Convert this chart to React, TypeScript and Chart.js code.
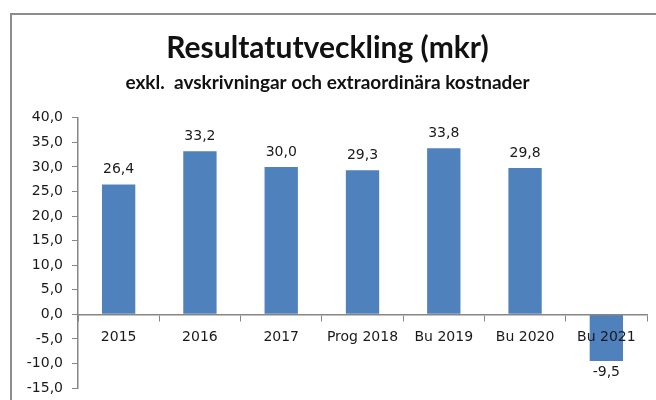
import React, { useEffect, useRef } from "react";
import { Chart, registerables } from "chart.js";

Chart.register(...registerables);

const categories = ["2015", "2016", "2017", "Prog 2018", "Bu 2019", "Bu 2020", "Bu 2021"];
const values = [26.4, 33.2, 30.0, 29.3, 33.8, 29.8, -9.5];
const titleText = "Resultatutveckling (mkr)";
const subtitleText = "exkl.  avskrivningar och extraordinära kostnader";
const yMin = -15;
const yMax = 40;
const yStep = 5;

const fmt = (v: number) => v.toFixed(1).replace(".", ",");

const frameAndBg = {
  id: "frameAndBg",
  beforeDraw(chart: any) {
    const ctx = chart.ctx;
    ctx.save();
    ctx.fillStyle = "#ffffff";
    ctx.fillRect(0, 0, chart.width, chart.height);
    ctx.strokeStyle = "#8c8c8c";
    ctx.lineWidth = 2;
    ctx.strokeRect(11, 14, 800, 600);
    ctx.restore();
  },
};

const valueLabels = {
  id: "valueLabels",
  afterDatasetsDraw(chart: any) {
    const ctx = chart.ctx;
    const meta = chart.getDatasetMeta(0);
    ctx.save();
    ctx.font = "14px 'DejaVu Sans'";
    ctx.fillStyle = "#1a1a1a";
    ctx.textAlign = "center";
    ctx.textBaseline = "middle";
    meta.data.forEach((bar: any, i: number) => {
      const v = chart.data.datasets[0].data[i];
      const y = v >= 0 ? bar.y - 15 : bar.y + 11;
      ctx.fillText(fmt(v), bar.x, y);
    });
    ctx.restore();
  },
};

export default function App() {
  const ref = useRef<HTMLCanvasElement>(null);
  useEffect(() => {
    if (!ref.current) return;
    const chart = new Chart(ref.current, {
      type: "bar",
      data: {
        labels: categories,
        datasets: [
          {
            data: values,
            backgroundColor: "#4f81bd",
            borderWidth: 0,
            categoryPercentage: 1,
            barPercentage: 0.41,
          },
        ],
      },
      plugins: [frameAndBg, valueLabels],
      options: {
        responsive: false,
        animation: false,
        layout: { padding: { left: 8, right: 9, top: 0, bottom: 12 } },
        plugins: {
          legend: { display: false },
          tooltip: { enabled: false },
          title: {
            display: true,
            text: titleText,
            color: "#111111",
            font: { family: "Lato", size: 30, weight: "bold" },
            padding: { top: 30, bottom: 0 },
          },
          subtitle: {
            display: true,
            text: subtitleText,
            color: "#111111",
            font: { family: "Lato", size: 19, weight: "bold" },
            padding: { top: 5, bottom: 24 },
          },
        },
        scales: {
          x: {
            position: { y: 0 } as any,
            afterFit: (s: any) => {
              s.paddingLeft = 0;
              s.paddingRight = 0;
            },
            grid: {
              display: true,
              drawOnChartArea: false,
              offset: true,
              tickLength: 6,
              color: "#868686",
              z: 1,
            },
            border: { display: true, color: "#868686", width: 1.5, z: 1 },
            ticks: {
              color: "#1a1a1a",
              font: { family: "DejaVu Sans", size: 14 },
              padding: 9,
              maxRotation: 0,
              autoSkip: false,
              z: 1,
            },
          },
          y: {
            min: yMin,
            max: yMax,
            afterFit: (s: any) => {
              s.width = 70;
              s.paddingTop = 0;
              s.paddingBottom = 0;
            },
            grid: {
              display: true,
              drawOnChartArea: false,
              tickLength: 6,
              color: "#868686",
            },
            border: { display: true, color: "#868686", width: 1.5 },
            ticks: {
              stepSize: yStep,
              color: "#1a1a1a",
              font: { family: "DejaVu Sans", size: 14 },
              padding: 9,
              callback: (v: any) => fmt(Number(v)),
            },
          },
        },
      },
    });
    return () => chart.destroy();
  }, []);
  return (
    <div style={{ position: "absolute", left: 0, top: 0, width: 656, height: 400 }}>
      <canvas ref={ref} width={656} height={400} />
    </div>
  );
}
